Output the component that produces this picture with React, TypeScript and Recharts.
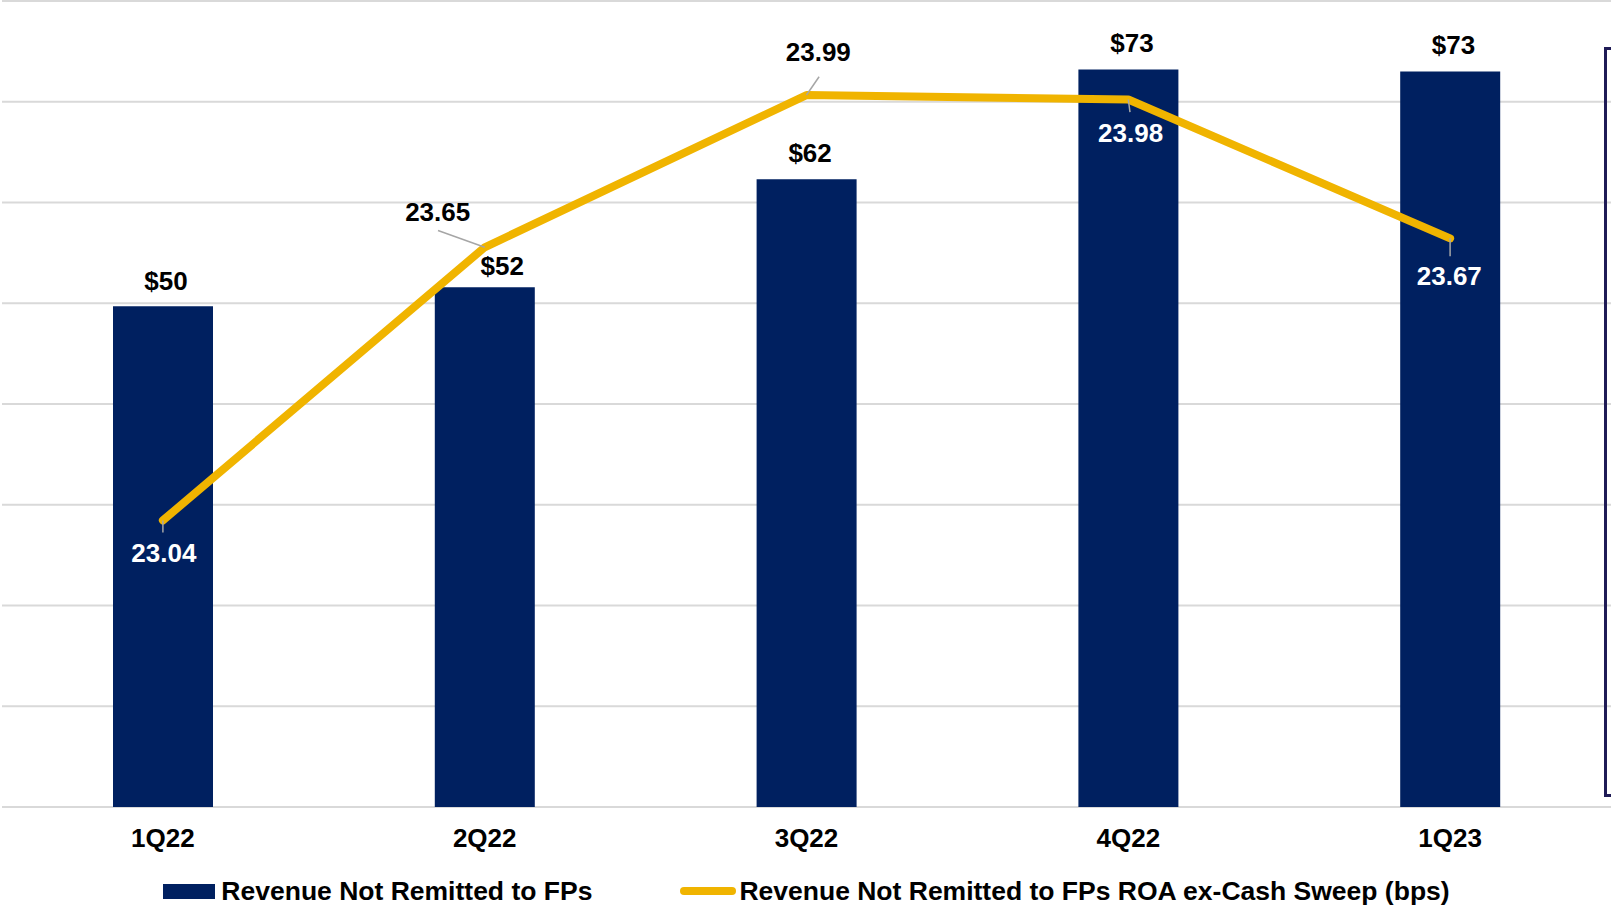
import { Bar, CartesianGrid, ComposedChart, LabelList, Legend, Line, XAxis, YAxis } from "recharts";

const quarters = ["1Q22", "2Q22", "3Q22", "4Q22", "1Q23"];
const revenue = [49.7, 51.6, 62.3, 73.2, 73.0];
const roaBps = [23.04, 23.65, 23.99, 23.98, 23.67];
const revenueTicks = [0, 10, 20, 30, 40, 50, 60, 70, 80];

const NAVY = "#002060";
const GOLD = "#F0B400";
const FONT = "'Liberation Sans', Arial, sans-serif";

// label nudges (text centre relative to bar top centre / line point)
const barLabelNudge = [
  { dx: 3, dy: -25.5 },
  { dx: 17.5, dy: -21.2 },
  { dx: 3.5, dy: -26.3 },
  { dx: 3.5, dy: -26.8 },
  { dx: 3.3, dy: -26.5 },
];
const roaLabelPlacement = [
  { dx: 1, dy: 32.3, color: "#ffffff", leader: [0, 0, 0, 12] },
  { dx: -47, dy: -35.7, color: "#000000", leader: [0, 0, -46.7, -16.7] },
  { dx: 11.8, dy: -43.7, color: "#000000", leader: [0, 0, 12.6, -18.3] },
  { dx: 2.3, dy: 33.2, color: "#ffffff", leader: [0, 0, 1.7, 12.7] },
  { dx: -0.8, dy: 37.6, color: "#ffffff", leader: [0, 0, 0, 18] },
];

const rows = quarters.map((q, i) => ({ quarter: q, revenue: revenue[i], roa: roaBps[i] }));

function QuarterTick(props: any) {
  const { x, y, payload } = props;
  return (
    <text x={x} y={y + 40} textAnchor="middle" fontFamily={FONT} fontWeight="bold" fontSize={26} fill="#000">
      {payload.value}
    </text>
  );
}

function BarLabel(props: any) {
  const { x, y, width, value, index } = props;
  const n = barLabelNudge[index] ?? { dx: 0, dy: -26 };
  return (
    <text
      x={Number(x) + Number(width) / 2 + n.dx}
      y={Number(y) + n.dy + 9.3}
      textAnchor="middle"
      fontFamily={FONT}
      fontWeight="bold"
      fontSize={26}
      fill="#000"
    >
      ${Math.round(Number(value))}
    </text>
  );
}

function RoaLabel(props: any) {
  const { x, y, value, index } = props;
  const p = roaLabelPlacement[index];
  if (!p) return null;
  const px = Number(x);
  const py = Number(y);
  const [x1, y1, x2, y2] = p.leader;
  return (
    <g>
      <line x1={px + x1} y1={py + y1} x2={px + x2} y2={py + y2} stroke="#a6a6a6" strokeWidth={1.5} />
      <text
        x={px + p.dx}
        y={py + p.dy + 9.3}
        textAnchor="middle"
        fontFamily={FONT}
        fontWeight="bold"
        fontSize={26}
        fill={p.color}
      >
        {Number(value).toFixed(2)}
      </text>
    </g>
  );
}

function ChartLegend() {
  const text = { fontFamily: FONT, fontWeight: 700, fontSize: 26.5, lineHeight: "30px", color: "#000", whiteSpace: "nowrap" as const };
  return (
    <div style={{ height: 50, display: "flex", justifyContent: "center", alignItems: "flex-start" }}>
      <div style={{ display: "flex", alignItems: "center", marginTop: 20 }}>
        <span style={{ display: "inline-block", width: 52, height: 15, background: NAVY, marginRight: 6 }} />
        <span style={text}>Revenue Not Remitted to FPs</span>
      </div>
      <div style={{ display: "flex", alignItems: "center", marginTop: 20, marginLeft: 88 }}>
        <span style={{ display: "inline-block", width: 56, height: 8, borderRadius: 4, background: GOLD, marginRight: 3 }} />
        <span style={text}>Revenue Not Remitted to FPs ROA ex-Cash Sweep (bps)</span>
      </div>
    </div>
  );
}

export default function App() {
  return (
    <div style={{ position: "absolute", left: 0, top: 0, width: 1611, height: 906, background: "#fff", overflow: "hidden" }}>
      <ComposedChart width={1611} height={906} data={rows} margin={{ top: 1, right: 0, left: 2, bottom: 0 }}>
        <CartesianGrid vertical={false} stroke="#d9d9d9" strokeWidth={2} yAxisId="rev" />
        <XAxis
          dataKey="quarter"
          axisLine={false}
          tickLine={false}
          tickSize={0}
          tickMargin={0}
          height={49}
          interval={0}
          tick={<QuarterTick />}
        />
        <YAxis yAxisId="rev" domain={[0, 80]} ticks={revenueTicks} hide />
        <YAxis yAxisId="roa" orientation="right" domain={[22.4, 24.2]} hide />
        <Legend verticalAlign="bottom" content={<ChartLegend />} />
        <Bar yAxisId="rev" dataKey="revenue" fill={NAVY} barSize={100} isAnimationActive={false}>
          <LabelList dataKey="revenue" content={<BarLabel />} />
        </Bar>
        <Line
          yAxisId="roa"
          dataKey="roa"
          stroke={GOLD}
          strokeWidth={8}
          strokeLinecap="round"
          strokeLinejoin="round"
          dot={false}
          activeDot={false}
          isAnimationActive={false}
        >
          <LabelList dataKey="roa" content={<RoaLabel />} />
        </Line>
      </ComposedChart>
      <div
        style={{
          position: "absolute",
          left: 1604,
          top: 47,
          width: 7,
          height: 750,
          boxSizing: "border-box",
          borderLeft: "3px solid #1f1b56",
          borderTop: "3px solid #1f1b56",
          borderBottom: "3px solid #1f1b56",
        }}
      />
    </div>
  );
}
